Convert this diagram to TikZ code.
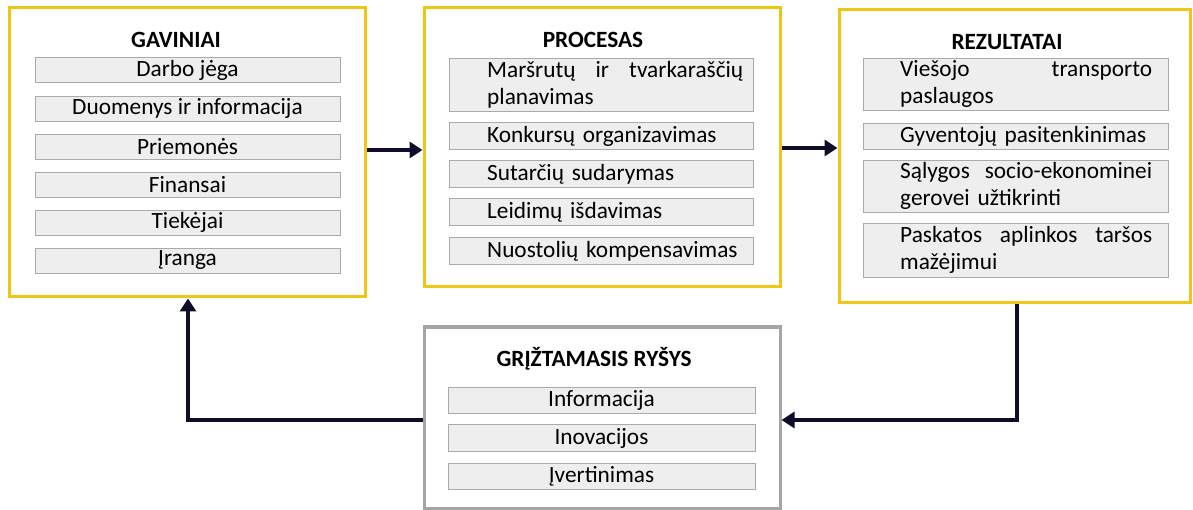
\documentclass[tikz,border=0pt]{standalone}
\usepackage{fontspec}
\setmainfont{Carlito}
\usetikzlibrary{arrows.meta}
\definecolor{gold}{RGB}{240,198,20}
\definecolor{graybd}{RGB}{165,165,165}
\definecolor{itemfill}{RGB}{238,238,238}
\definecolor{itemline}{RGB}{170,170,170}
\definecolor{arrowc}{RGB}{14,14,42}
\tikzset{
  ybox/.style={draw=gold, line width=3pt, fill=white, inner sep=0pt},
  gbox/.style={draw=graybd, line width=3pt, fill=white, inner sep=0pt},
  item/.style={fill=itemfill, draw=itemline, line width=0.6pt, inner sep=0pt,
    minimum width=305pt, minimum height=25pt, font=\fontsize{23.3}{27}\selectfont},
  ttl/.style={inner sep=0pt, font=\fontsize{23.3}{27}\selectfont\bfseries},
  txt/.style={inner sep=0pt, anchor=west, text width=256pt, align=left,
    font=\fontsize{23.3}{27}\selectfont},
  arr/.style={draw=arrowc, line width=4pt, -{Triangle[length=13pt,width=16pt]}}
}
\begin{document}
\begin{tikzpicture}[x=1pt,y=-1pt]
\useasboundingbox (0,0) rectangle (1193,510);
% frames
\node[ybox, minimum width=356pt, minimum height=289pt] (g) at (187,152.5) {};
\node[ybox, minimum width=356pt, minimum height=279pt] (p) at (602,147.5) {};
\node[ybox, minimum width=351pt, minimum height=293pt] (r) at (1014.5,156.5) {};
\node[gbox, minimum width=356pt, minimum height=181pt] (f) at (602,417.5) {};
% GAVINIAI
\node[ttl] (gt) at (176,40) {GAVINIAI};
\node[item] (g1) at (187.5,70) {Darbo jėga};
\node[item] (g2) at (187.5,108.5) {Duomenys ir informacija};
\node[item] (g3) at (187.5,146.5) {Priemonės};
\node[item] (g4) at (187.5,185) {Finansai};
\node[item] (g5) at (187.5,222.5) {Tiekėjai};
\node[item] (g6) at (187.5,260.5) {Įranga};
% PROCESAS
\node[ttl] (pt) at (593,40) {PROCESAS};
\node[item, minimum width=304pt, minimum height=53pt] (p1b) at (601,84.5) {};
\node[item, minimum width=304pt, minimum height=27pt] (p2b) at (601,136) {};
\node[item, minimum width=304pt, minimum height=27pt] (p3b) at (601,174) {};
\node[item, minimum width=304pt, minimum height=27pt] (p4b) at (601,212) {};
\node[item, minimum width=304pt, minimum height=27pt] (p5b) at (601,251) {};
\node[txt] (p1) at (487,84.5) {\makebox[256pt][s]{Maršrutų\hfill ir\hfill tvarkaraščių}\\planavimas};
\node[txt] (p2) at (487,136) {Konkursų organizavimas};
\node[txt] (p3) at (487,174) {Sutarčių sudarymas};
\node[txt] (p4) at (487,212) {Leidimų išdavimas};
\node[txt] (p5) at (487,251) {Nuostolių kompensavimas};
% REZULTATAI
\node[ttl] (rt) at (1007,42) {REZULTATAI};
\node[item, minimum width=305pt, minimum height=52pt] (r1b) at (1015.5,84) {};
\node[item, minimum width=305pt, minimum height=26pt] (r2b) at (1015.5,136) {};
\node[item, minimum width=305pt, minimum height=52pt] (r3b) at (1015.5,186) {};
\node[item, minimum width=305pt, minimum height=54pt] (r4b) at (1015.5,250) {};
\node[txt] (r1) at (900,84) {\makebox[252pt][s]{Viešojo\hfill transporto}\\paslaugos};
\node[txt] (r2) at (900,136) {Gyventojų pasitenkinimas};
\node[txt] (r3) at (900,186) {\makebox[252pt][s]{Sąlygos\hfill socio-ekonominei}\\gerovei užtikrinti};
\node[txt] (r4) at (900,250) {\makebox[252pt][s]{Paskatos\hfill aplinkos\hfill taršos}\\mažėjimui};
% GRĮŽTAMASIS RYŠYS
\node[ttl] (ft) at (594,359) {GRĮŽTAMASIS RYŠYS};
\node[item, minimum width=307pt, minimum height=26pt] (f1) at (601.5,400) {Informacija};
\node[item, minimum width=307pt, minimum height=27pt] (f2) at (601.5,438) {Inovacijos};
\node[item, minimum width=307pt, minimum height=26pt] (f3) at (601.5,476) {Įvertinimas};
% connectors
\coordinate (a1) at (0,150);
\coordinate (a2) at (0,148);
\coordinate (k1) at (1017,420);
\coordinate (k2) at (188,420);
\draw[arr] (g.east |- a1) -- (p.west |- a1);
\draw[arr] (p.east |- a2) -- (r.west |- a2);
\draw[arr] (r.south -| k1) -- (k1) -- (f.east |- k1);
\draw[arr] (f.west |- k2) -- (k2) -- (g.south -| k2);
\end{tikzpicture}
\end{document}
